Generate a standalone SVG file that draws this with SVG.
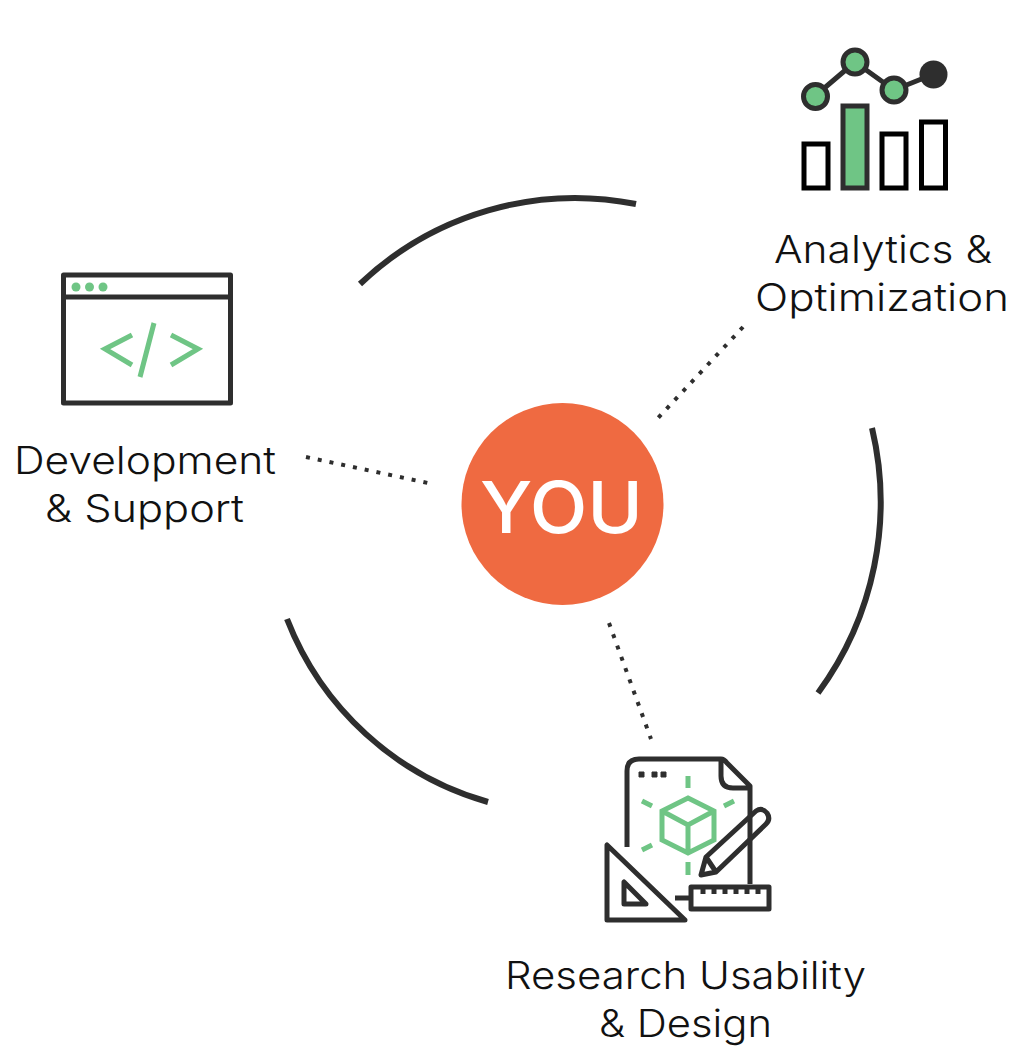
<svg xmlns="http://www.w3.org/2000/svg" width="1036" height="1062" viewBox="0 0 1036 1062">
<style>
.lbl{font-family:"Inter","Liberation Sans",sans-serif;font-weight:300;font-size:38px;fill:#111}
.arc{fill:none;stroke:#2e2e2e;stroke-width:6}
.dot{fill:none;stroke:#2e2e2e;stroke-width:4;stroke-dasharray:4 8}
.k{fill:none;stroke:#2e2e2e;stroke-width:5;stroke-linejoin:round}
.g{fill:none;stroke:#6fc585;stroke-width:5}
.b{fill:#fff;stroke:#000;stroke-width:5}
.c{fill:#6fc585;stroke:#2e2e2e;stroke-width:5}
</style>
<rect width="1036" height="1062" fill="#fff"/>
<g id="connectors">
<path class="arc" d="M360 284A312 312 0 0 1 636 204"/>
<path class="arc" d="M872 428A322 322 0 0 1 818 693"/>
<path class="arc" d="M287 619A305 305 0 0 0 488 802"/>
<path class="dot" d="M743 327L658 418"/>
<path class="dot" d="M306 457L428 483"/>
<path class="dot" d="M609 623L651 739"/>
</g>
<g id="you">
<circle cx="562.500" cy="504" r="101" fill="#ef6a41"/>
<text x="480" y="533" textLength="163" lengthAdjust="spacingAndGlyphs" font-family="Inter,'Liberation Sans',sans-serif" font-size="71" font-weight="500" fill="#fff">YOU</text>
</g>
<g id="analytics">
<path class="k" d="M815 96L855 62L894 90L934 74"/>
<circle class="c" cx="815.500" cy="96.500" r="12"/>
<circle class="c" cx="855" cy="62" r="12"/>
<circle class="c" cx="894" cy="90" r="12"/>
<circle cx="933.500" cy="74.500" r="14" fill="#2e2e2e"/>
<rect class="b" x="804" y="144" width="24" height="44"/>
<rect class="c" x="843" y="106" width="24" height="82"/>
<rect class="b" x="882" y="134" width="24" height="54"/>
<rect class="b" x="921.500" y="122" width="24" height="66"/>
<text class="lbl" x="774" y="263" textLength="218" lengthAdjust="spacingAndGlyphs">Analytics &amp;</text>
<text class="lbl" x="755" y="311" textLength="254" lengthAdjust="spacingAndGlyphs">Optimization</text>
</g>
<g id="development">
<rect class="k" x="63.500" y="275" width="167" height="128"/>
<path class="k" d="M63.500 297H230.500"/>
<circle cx="76" cy="287" r="4.500" fill="#6fc585"/><circle cx="89.500" cy="287" r="4.500" fill="#6fc585"/><circle cx="103" cy="287" r="4.500" fill="#6fc585"/>
<path class="g" d="M132 335L105 349L132 365M171 335L198 349L171 365M154 323L140 377"/>
<text class="lbl" x="14" y="474" textLength="262" lengthAdjust="spacingAndGlyphs">Development</text>
<text class="lbl" x="45" y="522" textLength="199" lengthAdjust="spacingAndGlyphs">&amp; Support</text>
</g>
<g id="research">
<path class="k" d="M627 847V771Q627 759 639 759H721Q724 759 727 763L750 786V884M721 759V776Q721 788 733 788H750"/>
<path d="M639 772h5v5h-5zM652 772h5v5h-5zM661 772h5v5h-5z" fill="#2e2e2e" stroke="#2e2e2e" stroke-width="1"/>
<path class="g" d="M688 776V788M688 862V875M642 801L652 806M734 801L724 806M642 850L652 845"/>
<path class="g" d="M688 798L714 811V840L688 853L662 840V811ZM662 811L688 825L714 811M688 825V853"/>
<path class="k" d="M701 875L706 857L756 811Q762 807 767 813Q771 819 766 824L716 872ZM706 857L716 872"/>
<path class="k" d="M607 845V920H685ZM624 882V904H646Z"/>
<rect class="k" x="691" y="887" width="78" height="22"/>
<path class="k" d="M675 898H691M703 887v7M714 887v7M725 887v7M736 887v7M747 887v7M758 887v7"/>
<text class="lbl" x="505" y="989" textLength="361" lengthAdjust="spacingAndGlyphs">Research Usability</text>
<text class="lbl" x="599" y="1037" textLength="173" lengthAdjust="spacingAndGlyphs">&amp; Design</text>
</g>
</svg>
